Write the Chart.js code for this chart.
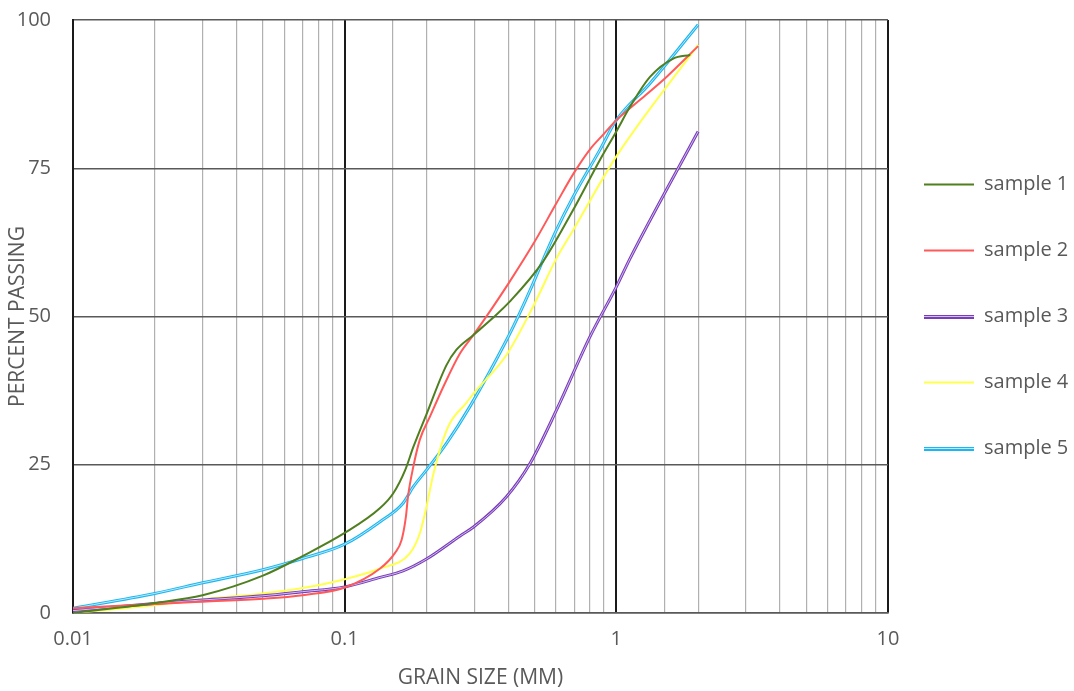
<!DOCTYPE html>
<html>
<head>
<meta charset="utf-8">
<script src="https://cdn.jsdelivr.net/npm/chart.js@4.4.1/dist/chart.umd.min.js"></script>
<style>
  html, body { margin: 0; padding: 0; background: #fff; }
  #wrap { width: 1074px; height: 691px; position: relative; }
</style>
</head>
<body>
<div id="wrap"><canvas id="grainChart"></canvas></div>
<script>
// grain size (mm) / percent passing
const sample1Size = [0.01, 0.02, 0.03, 0.05, 0.07, 0.1, 0.135, 0.151, 0.167, 0.179, 0.2, 0.237, 0.258, 0.298, 0.35, 0.405, 0.538, 0.694, 0.87, 1, 1.124, 1.33, 1.62, 1.87];
const sample1Pass = [0, 1.7, 3.0, 6.3, 9.6, 13.5, 17.7, 20.2, 24.1, 28.0, 33.5, 41.8, 44.4, 46.9, 49.7, 52.5, 59.3, 68.0, 76.4, 81.2, 85.4, 90.4, 93.5, 94.1];

const sample2Size = [0.01, 0.02, 0.03, 0.05, 0.07, 0.1, 0.135, 0.153, 0.162, 0.168, 0.171, 0.179, 0.189, 0.206, 0.231, 0.266, 0.298, 0.35, 0.4, 0.5, 0.6, 0.7, 0.8, 0.9, 1, 1.22, 1.53, 2];
const sample2Pass = [0.8, 1.5, 1.9, 2.4, 3.0, 4.3, 7.5, 10.1, 12.3, 16.2, 19.6, 24.7, 29.2, 33.1, 38.2, 43.8, 46.9, 51.5, 55.5, 62.6, 69.0, 74.3, 78.2, 80.8, 83.1, 86.5, 90.4, 95.6];

const sample3Size = [0.01, 0.02, 0.03, 0.05, 0.07, 0.1, 0.135, 0.164, 0.2, 0.266, 0.298, 0.394, 0.481, 0.602, 0.8, 1, 1.124, 2];
const sample3Pass = [0.4, 1.6, 2.2, 2.9, 3.6, 4.4, 6.0, 7.1, 9.1, 13.0, 14.5, 19.6, 25.2, 34.2, 46.6, 55.0, 59.8, 81.2];

const sample4Size = [0.01, 0.02, 0.03, 0.05, 0.07, 0.1, 0.135, 0.174, 0.189, 0.2, 0.211, 0.228, 0.244, 0.28, 0.298, 0.394, 0.494, 0.602, 0.694, 1, 2];
const sample4Pass = [0, 1.3, 2.3, 3.3, 4.2, 5.7, 7.5, 10.1, 13.4, 17.9, 23.0, 28.6, 32.0, 35.4, 37.0, 43.5, 51.7, 59.8, 64.6, 77.0, 95.8];

const sample5Size = [0.01, 0.02, 0.03, 0.05, 0.07, 0.1, 0.135, 0.164, 0.179, 0.2, 0.237, 0.289, 0.394, 0.44, 0.494, 0.538, 0.602, 0.694, 0.87, 1, 1.33, 2];
const sample5Pass = [0.8, 3.3, 5.1, 7.3, 9.2, 11.6, 15.4, 18.5, 21.3, 24.1, 28.6, 34.8, 46.0, 50.5, 55.6, 59.6, 64.6, 70.2, 78.1, 83.1, 89.3, 99.2];

const sampleNames = ['sample 1', 'sample 2', 'sample 3', 'sample 4', 'sample 5'];
const sampleColors = ['#4f7f1f', '#ff5a5a', '#7a3db8', '#ffff4d', '#1fb5ee'];
const coreColors = [null, null, '#d2bdf0', null, '#b5ecff'];   // light core of the compound lines
const doubleSamples = [2, 4];
const yTicks = [0, 25, 50, 75, 100];

const textGray = '#595959';
Chart.defaults.font.family = "'Open Sans', sans-serif";
Chart.defaults.color = textGray;

function toPoints(sizes, pass) {
    return sizes.map((s, i) => ({ x: s, y: pass[i] }));
}

function isDecade(v) {
    const l = Math.log10(v);
    return Math.abs(l - Math.round(l)) < 1e-6;
}

function makeSet(i, sizes, pass) {
    const dbl = doubleSamples.includes(i);
    return {
        label: sampleNames[i],
        data: toPoints(sizes, pass),
        borderColor: sampleColors[i],
        backgroundColor: sampleColors[i],
        borderWidth: dbl ? 3 : 2,
        pointRadius: 0,
        pointHoverRadius: 0,
        cubicInterpolationMode: 'monotone',
        fill: false
    };
}

// small nudge so the legend keys sit where the reference has them
const legendShift = {
    id: 'legendShift',
    afterLayout(chart) {
        if (chart.legend) {
            chart.legend.left -= 10;
            chart.legend.right = chart.width;
        }
    }
};

// compound lines: a thin light core over the coloured stroke
const doubleLine = {
    id: 'doubleLine',
    afterDatasetDraw(chart, args) {
        if (!doubleSamples.includes(args.index)) return;
        const el = args.meta.dataset;
        const saved = el.options;
        el.options = Object.assign({}, saved, { borderColor: coreColors[args.index], borderWidth: 1 });
        const c = chart.ctx;
        c.save();
        c.beginPath();
        c.rect(chart.chartArea.left, chart.chartArea.top, chart.chartArea.width, chart.chartArea.height);
        c.clip();
        el.draw(c, chart.chartArea);
        c.restore();
        el.options = saved;
    },
    afterDraw(chart) {
        const lg = chart.legend;
        if (!lg || !lg.legendHitBoxes) return;
        const c = chart.ctx;
        const bw = lg.options.labels.boxWidth;
        lg.legendHitBoxes.forEach((hb, i) => {
            if (!doubleSamples.includes(i)) return;
            const row = Math.round(hb.top + hb.height / 2);
            const x0 = Math.round(hb.left);
            c.save();
            c.fillStyle = sampleColors[i];
            c.fillRect(x0, row - 2, bw, 4);
            c.fillStyle = coreColors[i];
            c.fillRect(x0, row - 1, bw, 1);
            c.restore();
        });
    }
};

const ctx = document.getElementById('grainChart').getContext('2d');
new Chart(ctx, {
    type: 'line',
    data: {
        datasets: [
            makeSet(0, sample1Size, sample1Pass),
            makeSet(1, sample2Size, sample2Pass),
            makeSet(2, sample3Size, sample3Pass),
            makeSet(3, sample4Size, sample4Pass),
            makeSet(4, sample5Size, sample5Pass)
        ]
    },
    options: {
        responsive: true,
        maintainAspectRatio: false,
        animation: false,
        layout: { padding: { top: 20, right: 0, bottom: 0, left: 0 } },
        plugins: {
            tooltip: { enabled: false },
            legend: {
                position: 'right',
                fullSize: false,
                maxWidth: 186,
                labels: {
                    usePointStyle: true,
                    pointStyle: 'line',
                    pointStyleWidth: 50,
                    boxWidth: 50,
                    padding: 46,
                    color: textGray,
                    font: { size: 20 },
                    generateLabels(chart) {
                        return chart.data.datasets.map((ds, i) => ({
                            text: ds.label,
                            datasetIndex: i,
                            hidden: !chart.isDatasetVisible(i),
                            fillStyle: sampleColors[i],
                            strokeStyle: sampleColors[i],
                            lineWidth: ds.borderWidth,
                            pointStyle: 'line',
                            fontColor: textGray
                        }));
                    }
                }
            }
        },
        scales: {
            x: {
                type: 'logarithmic',
                min: 0.01,
                max: 10,
                afterFit(scale) { scale.height = 78; },
                border: { color: '#595959', width: 1.5 },
                grid: {
                    drawTicks: false,
                    color: (c) => (c.tick && isDecade(c.tick.value)) ? '#1a1a1a' : '#b0b0b0',
                    lineWidth: (c) => (c.tick && isDecade(c.tick.value)) ? 2 : 1.2
                },
                ticks: {
                    autoSkip: false,
                    maxRotation: 0,
                    padding: 14,
                    font: { size: 20 },
                    color: textGray,
                    callback: (v) => isDecade(v) ? String(v) : ''
                },
                title: {
                    display: true,
                    text: 'GRAIN SIZE (MM)',
                    color: textGray,
                    font: { size: 21 },
                    padding: { top: 0, bottom: 0 }
                }
            },
            y: {
                min: 0,
                max: 100,
                afterFit(scale) {
                    scale.width = 73;
                    scale.paddingTop = 0;
                    scale.paddingBottom = 0;
                },
                afterBuildTicks(scale) { scale.ticks = yTicks.map(v => ({ value: v })); },
                border: { color: '#1a1a1a', width: 2 },
                grid: {
                    drawTicks: false,
                    color: '#595959',
                    lineWidth: 1.5
                },
                ticks: {
                    padding: 22,
                    font: { size: 20 },
                    color: textGray
                },
                title: {
                    display: true,
                    text: 'PERCENT PASSING',
                    color: textGray,
                    font: { size: 21 },
                    padding: { top: 5, bottom: 0 }
                }
            }
        }
    },
    plugins: [legendShift, doubleLine]
});
</script>
</body>
</html>
